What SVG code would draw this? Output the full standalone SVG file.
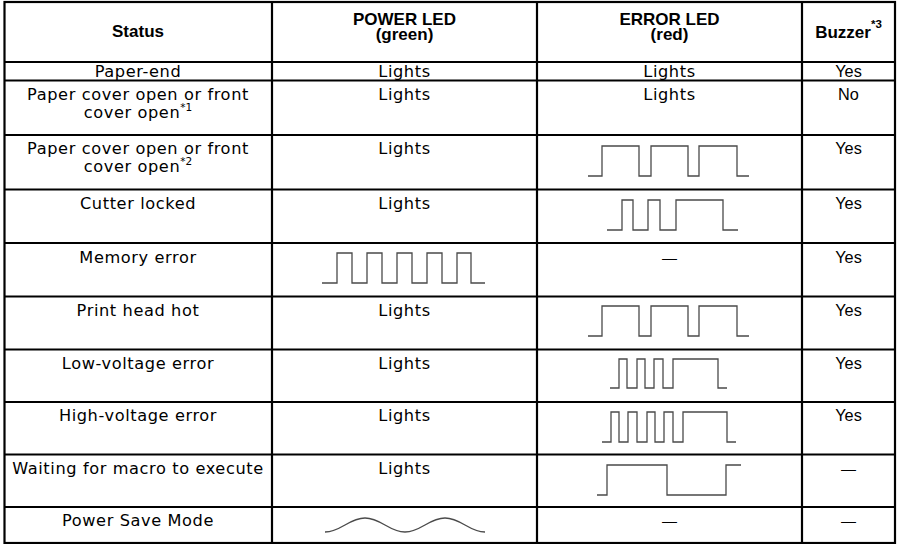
<svg xmlns="http://www.w3.org/2000/svg" width="897" height="544" viewBox="0 0 897 544">
<style>
.grid{stroke:#000;stroke-width:2.2;fill:none}
.hd{font-family:"Liberation Sans",Arial,sans-serif;font-weight:bold;font-size:17px;fill:#000;text-anchor:middle}
.st{font-family:"DejaVu Sans","Liberation Sans",sans-serif;font-size:16.2px;letter-spacing:0.6px;fill:#000;text-anchor:middle}
.bz{font-family:"Liberation Sans",Arial,sans-serif;font-size:16.3px;fill:#000;text-anchor:middle}
.dash{font-family:"Liberation Sans",Arial,sans-serif;font-size:15px;fill:#000;text-anchor:middle}
.sup{font-size:10.5px;letter-spacing:0}
.hsup{font-size:11.5px}
.wave{fill:none;stroke:#4a4a4a;stroke-width:1.3}
</style>
<rect width="897" height="544" fill="#fff"/>
<g id="grid">
<rect class="grid" x="4.5" y="2" width="890.5" height="541"/>
<path class="grid" d="M272,2V543M537,2V543M802,2V543"/>
<path class="grid" d="M4.5,62H895M4.5,80.5H895M4.5,135H895M4.5,189.5H895M4.5,243H895M4.5,296.5H895M4.5,349.5H895M4.5,402H895M4.5,454.5H895M4.5,507H895"/>
</g>
<g id="header">
<text class="hd" x="138" y="36.5">Status</text>
<text class="hd"><tspan x="404.5" y="25">POWER LED</tspan><tspan x="404.5" y="40">(green)</tspan></text>
<text class="hd"><tspan x="669.5" y="25">ERROR LED</tspan><tspan x="669.5" y="40">(red)</tspan></text>
<text class="hd" x="848.5" y="38">Buzzer<tspan class="hsup" dy="-10">*3</tspan></text>
</g>
<g id="row-paper-end">
<text class="st" x="138" y="77">Paper-end</text>
<text class="st" x="404.5" y="77">Lights</text>
<text class="st" x="669.5" y="77">Lights</text>
<text class="bz" x="848.5" y="77">Yes</text>
</g>
<g id="row-cover-open-1">
<text class="st"><tspan x="138" y="99.5">Paper cover open or front</tspan><tspan x="138" y="117.5">cover open</tspan><tspan class="sup" dy="-7">*1</tspan></text>
<text class="st" x="404.5" y="99.5">Lights</text>
<text class="st" x="669.5" y="99.5">Lights</text>
<text class="bz" x="848.5" y="99.5">No</text>
</g>
<g id="row-cover-open-2">
<text class="st"><tspan x="138" y="154">Paper cover open or front</tspan><tspan x="138" y="172">cover open</tspan><tspan class="sup" dy="-7">*2</tspan></text>
<text class="st" x="404.5" y="154">Lights</text>
<path class="wave" d="M588,176H602V146H639V176H651V146H688V176H699V146H737V176H749"/>
<text class="bz" x="848.5" y="154">Yes</text>
</g>
<g id="row-cutter">
<text class="st" x="138" y="208.5">Cutter locked</text>
<text class="st" x="404.5" y="208.5">Lights</text>
<path class="wave" d="M607,230H622V200H633V230H648V200H660V230H676V200H723V230H738"/>
<text class="bz" x="848.5" y="208.5">Yes</text>
</g>
<g id="row-memory">
<text class="st" x="138" y="262.5">Memory error</text>
<path class="wave" d="M322,283H337V253H352V283H367V253H382V283H397V253H412V283H427V253H442V283H457V253H471V283H485"/>
<text class="dash" x="669.5" y="262.5">—</text>
<text class="bz" x="848.5" y="262.5">Yes</text>
</g>
<g id="row-head-hot">
<text class="st" x="138" y="315.5">Print head hot</text>
<text class="st" x="404.5" y="315.5">Lights</text>
<path class="wave" d="M588,336H602V306H639V336H651V306H688V336H699V306H737V336H749"/>
<text class="bz" x="848.5" y="315.5">Yes</text>
</g>
<g id="row-low-voltage">
<text class="st" x="138" y="368.5">Low-voltage error</text>
<text class="st" x="404.5" y="368.5">Lights</text>
<path class="wave" d="M610,388H619V359H627V388H637V359H645V388H654V359H663V388H673V359H718V388H727"/>
<text class="bz" x="848.5" y="368.5">Yes</text>
</g>
<g id="row-high-voltage">
<text class="st" x="138" y="421">High-voltage error</text>
<text class="st" x="404.5" y="421">Lights</text>
<path class="wave" d="M602,442H611V412H619V442H628V412H637V442H647V412H655V442H664V412H673V442H683V412H727V442H736"/>
<text class="bz" x="848.5" y="421">Yes</text>
</g>
<g id="row-macro">
<text class="st" x="138" y="473.5">Waiting for macro to execute</text>
<text class="st" x="404.5" y="473.5">Lights</text>
<path class="wave" d="M597,495H607V465H667V495H726V465H741"/>
<text class="dash" x="848.5" y="473.5">—</text>
</g>
<g id="row-power-save">
<text class="st" x="138" y="526">Power Save Mode</text>
<path class="wave" d="M325,532C341,532 349,518 365,518C381,518 389,532 405,532C421,532 429,518 445,518C461,518 469,532 485,532"/>
<text class="dash" x="669.5" y="526">—</text>
<text class="dash" x="848.5" y="526">—</text>
</g>
</svg>
